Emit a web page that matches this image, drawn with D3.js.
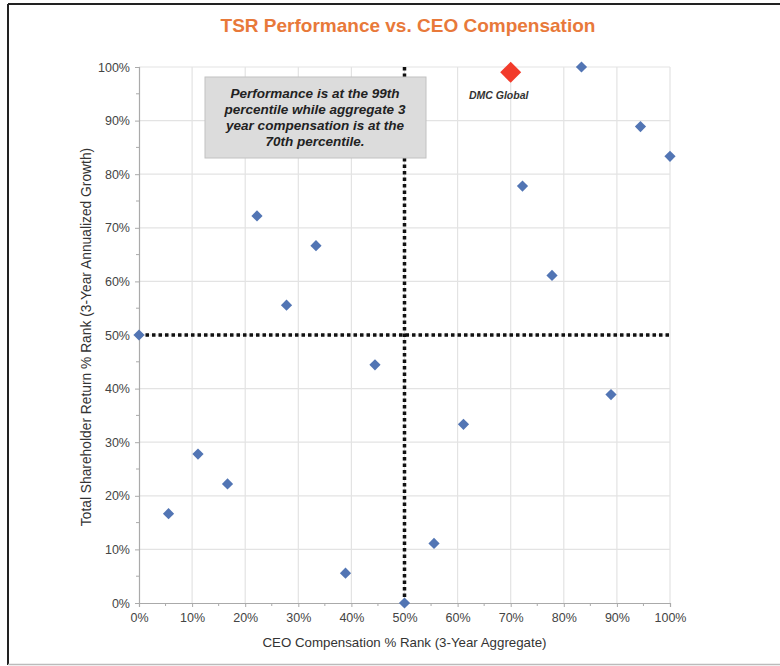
<!DOCTYPE html>
<html><head><meta charset="utf-8">
<script src="https://cdn.jsdelivr.net/npm/d3@7"></script>
<style>body{margin:0;background:#fff}svg{display:block}</style>
</head><body>
<svg id="c" width="780" height="666"></svg>
<script>
// Data: CEO compensation % rank (x) vs TSR % rank (y)
const compRank = [0, 0.0556, 0.1111, 0.1667, 0.2222, 0.2778, 0.3333, 0.3889, 0.4444, 0.5, 0.5556, 0.6111, 0.7222, 0.7778, 0.8333, 0.8889, 0.9444, 1.0];
const tsrRank  = [0.5, 0.1667, 0.2778, 0.2222, 0.7222, 0.5556, 0.6667, 0.0556, 0.4444, 0, 0.1111, 0.3333, 0.7778, 0.6111, 1.0, 0.3889, 0.8889, 0.8333];
const highlightName = ["DMC Global"];
const highlightX = [0.70];
const highlightY = [0.99];
const tickValues = [0,0.1,0.2,0.3,0.4,0.5,0.6,0.7,0.8,0.9,1.0];
const minorTicks = [0.05,0.15,0.25,0.35,0.45,0.55,0.65,0.75,0.85,0.95];
const refX = [0.5], refY = [0.5];
const titleText = "TSR Performance vs. CEO Compensation";
const xTitle = "CEO Compensation % Rank (3-Year Aggregate)";
const yTitle = "Total Shareholder Return % Rank (3-Year Annualized Growth)";
const noteLines = ["Performance is at the 99th","percentile while aggregate 3","year compensation is at the","70th percentile."];

const svg = d3.select("#c");
const font = "'Liberation Sans', Arial, Helvetica, sans-serif";
const L = 139, R = 670, T = 67, B = 603;
const x = d3.scaleLinear().domain([0,1]).range([L,R]);
const y = d3.scaleLinear().domain([0,1]).range([B,T]);
const pct = d3.format(".0%");
const diamondPath = r => `M0,${-r}L${r},0L0,${r}L${-r},0Z`;

// frame
svg.append("line").attr("x1",8).attr("x2",8).attr("y1",4).attr("y2",665).attr("stroke","#222").attr("stroke-width",2);
svg.append("line").attr("x1",8).attr("x2",780).attr("y1",4).attr("y2",4).attr("stroke","#222").attr("stroke-width",2);
svg.append("line").attr("x1",8).attr("x2",780).attr("y1",664.5).attr("y2",664.5).attr("stroke","#bbb").attr("stroke-width",1.5);

// title
svg.append("text").attr("x",408).attr("y",31.5).attr("text-anchor","middle")
  .attr("font-family",font).attr("font-weight","bold").attr("font-size",19)
  .attr("fill","#e8793a").text(titleText);

// grid
const g = svg.append("g");
g.selectAll(".gx").data(tickValues.slice(1)).join("line")
  .attr("x1",d=>x(d)).attr("x2",d=>x(d)).attr("y1",T).attr("y2",B)
  .attr("stroke","#e3e3e3").attr("stroke-width",1.2);
g.selectAll(".gy").data(tickValues.slice(1)).join("line")
  .attr("x1",L).attr("x2",R).attr("y1",d=>y(d)).attr("y2",d=>y(d))
  .attr("stroke","#e3e3e3").attr("stroke-width",1.2);

// axes
const xAxis = d3.axisBottom(x).tickValues(tickValues).tickFormat(pct).tickSize(4).tickPadding(6);
const yAxis = d3.axisLeft(y).tickValues(tickValues).tickFormat(pct).tickSize(4).tickPadding(5);
const gx = svg.append("g").attr("transform",`translate(0,${B})`).call(xAxis);
const gy = svg.append("g").attr("transform",`translate(${L},0)`).call(yAxis);
[gx,gy].forEach(a=>{
  a.select(".domain").attr("stroke","#aaa").attr("stroke-width",1.2);
  a.selectAll(".tick line").attr("stroke","#aaa");
  a.selectAll(".tick text").attr("font-family",font).attr("font-size",12.5).attr("fill","#444");
});
gx.selectAll(".minor").data(minorTicks).join("line").attr("x1",d=>x(d)).attr("x2",d=>x(d)).attr("y1",0).attr("y2",3).attr("stroke","#aaa");
gy.selectAll(".minor").data(minorTicks).join("line").attr("y1",d=>y(d)).attr("y2",d=>y(d)).attr("x1",0).attr("x2",-3).attr("stroke","#aaa");

// reference dotted lines
svg.selectAll(".rx").data(refX).join("line").attr("x1",d=>x(d)).attr("x2",d=>x(d)).attr("y1",T).attr("y2",B)
  .attr("stroke","#111").attr("stroke-width",3.5).attr("stroke-dasharray","3.5,3");
svg.selectAll(".ry").data(refY).join("line").attr("y1",d=>y(d)).attr("y2",d=>y(d)).attr("x1",L).attr("x2",R)
  .attr("stroke","#111").attr("stroke-width",3.5).attr("stroke-dasharray","3.5,3");

// annotation box
svg.append("rect").attr("x",205).attr("y",77).attr("width",221).attr("height",81)
  .attr("fill","#dcdcdc").attr("stroke","#c2c2c2").attr("stroke-width",1);
svg.append("g").selectAll("text").data(noteLines).join("text")
  .attr("x",315).attr("y",(d,i)=>97.5+i*16.3).attr("text-anchor","middle")
  .attr("font-family",font).attr("font-weight","bold").attr("font-style","italic").attr("font-size",13.5)
  .attr("fill","#222").text(d=>d);

// points
svg.append("g").selectAll("path").data(compRank.map((c,i)=>[c,tsrRank[i]])).join("path")
  .attr("transform",d=>`translate(${x(d[0])},${y(d[1])})`)
  .attr("d",diamondPath(5.6)).attr("fill","#5275b4");

// highlight
svg.append("g").selectAll("path").data(highlightX.map((v,i)=>[v,highlightY[i]])).join("path")
  .attr("transform",d=>`translate(${x(d[0])},${y(d[1])})`)
  .attr("d",diamondPath(10.5)).attr("fill","#f23b2b");
svg.append("g").selectAll("text").data(highlightName).join("text")
  .attr("x",(d,i)=>x(highlightX[i])-12).attr("y",(d,i)=>y(highlightY[i])+27).attr("text-anchor","middle")
  .attr("font-family",font).attr("font-weight","bold").attr("font-style","italic").attr("font-size",10.5)
  .attr("fill","#333").text(d=>d);

// axis titles
svg.append("text").attr("x",x(0.5)).attr("y",647).attr("text-anchor","middle")
  .attr("font-family",font).attr("font-size",13.3).attr("fill","#333").text(xTitle);
svg.append("text").attr("transform",`translate(91,${(T+B)/2+2}) rotate(-90)`).attr("text-anchor","middle")
  .attr("font-family",font).attr("font-size",13.8).attr("fill","#333").text(yTitle);
</script>
</body></html>
